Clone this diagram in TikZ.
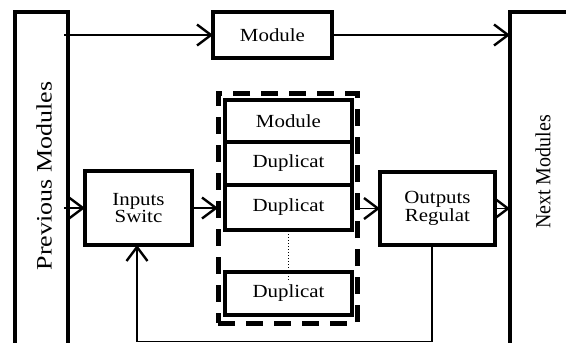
\documentclass[tikz,border=0pt]{standalone}
\usepackage{fontspec}
\setmainfont{Liberation Serif}
\usetikzlibrary{arrows.meta,calc}
\begin{document}
\begin{tikzpicture}[x=1pt,y=-1pt,
  box/.style={draw,line width=4pt,inner sep=0pt,outer sep=0pt},
  txt/.style={inner sep=0pt,align=center,xscale=1.13,transform shape,
    font=\fontsize{18.5}{16}\selectfont},
  inbox/.style={box,minimum width=127pt},
  conn/.style={line width=1.6pt,-{Straight Barb[length=14pt,width=21pt,line width=2.4pt]}},
  plain/.style={line width=1.6pt},
  lbl/.style={inner sep=0pt,transform shape}]
\useasboundingbox (0,0) rectangle (566,343);
% side blocks
\node[box,minimum width=53pt,minimum height=340pt] (prev) at (41.5,182) {};
\node[lbl,rotate=90,xscale=1.18,font=\fontsize{22}{24}\selectfont] (prevt) at (44,176) {Previous Modules};
\node[box,minimum width=70pt,minimum height=340pt] (next) at (545,182) {};
\node[lbl,rotate=90,xscale=0.93,font=\fontsize{21.5}{24}\selectfont] (nextt) at (543,172) {Next Modules};
% top module
\node[box,minimum width=119pt,minimum height=46pt] (topm) at (272.5,35) {};
\node[txt] (topmt) at (topm) {Module};
% inputs / outputs
\node[box,minimum width=107pt,minimum height=74pt] (ins) at (138.5,208) {};
\node[txt] (inst) at (ins) {Inputs\\Switc};
\node[box,minimum width=115pt,minimum height=73pt] (outs) at (437.5,208.5) {};
\node[txt] (outst) at (outs) {Outputs\\Regulat};
% dashed group
\node[draw,line width=5pt,dash pattern=on 17pt off 11pt,inner sep=0pt,outer sep=0pt,
  minimum width=139pt,minimum height=230pt] (grp) at (287.5,208) {};
\node[inbox,minimum height=42pt] (m1) at (288.5,121) {};
\node[txt] (m1t) at (m1) {Module};
\node[inbox,minimum height=43pt] (d1) at (288.5,163.5) {};
\node[txt] (d1t) at (d1) {Duplicat};
\node[inbox,minimum height=45pt] (d2) at (288.5,207.5) {};
\node[txt] (d2t) at (d2) {Duplicat};
\node[inbox,minimum height=43pt] (d3) at (288.5,293.5) {};
\node[txt] (d3t) at (d3) {Duplicat};
\draw[line width=1pt,dotted] ([yshift=2pt]d2.south) -- ([yshift=-8pt]d3.north);
% connectors
\draw[conn] ([xshift=-4pt]prev.east |- topm.west) -- (topm.west);
\draw[conn] (topm.east) -- (next.west |- topm.east);
\draw[conn] ([xshift=-4pt]prev.east |- ins.west) -- (ins.west);
\draw[conn] (ins.east) -- (grp.west |- ins.east);
\draw[conn] (grp.east |- outs.west) -- (outs.west);
\draw[conn] (outs.east) -- (next.west |- outs.east);
\coordinate (fbR) at (432,341.5);
\coordinate (fbL) at (137,341.5);
\draw[plain] (outs.south -| fbR) -- (fbR) -- (fbL);
\draw[conn] (fbL) -- (fbL |- ins.south);
\end{tikzpicture}
\end{document}
